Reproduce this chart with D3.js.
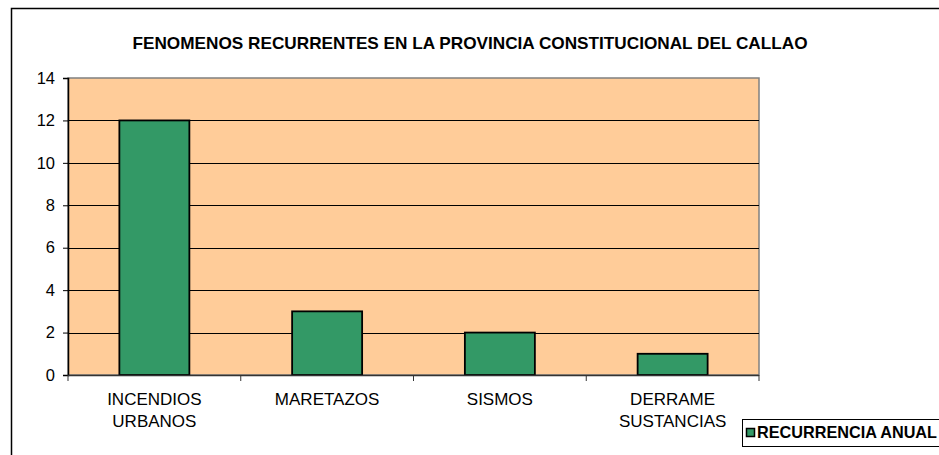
<!DOCTYPE html>
<html><head><meta charset="utf-8">
<script src="https://cdn.jsdelivr.net/npm/d3@7"></script>
<style>body{margin:0;background:#fff}svg{display:block}</style>
</head><body>
<svg id="c" width="939" height="455"></svg>
<script>
const categories = [["INCENDIOS","URBANOS"],["MARETAZOS"],["SISMOS"],["DERRAME","SUSTANCIAS"]];
const values = [12, 3, 2, 1];
const yTicks = [0, 2, 4, 6, 8, 10, 12, 14];
const seriesName = "RECURRENCIA ANUAL";
const title = "FENOMENOS RECURRENTES EN LA PROVINCIA CONSTITUCIONAL DEL CALLAO";

const svg = d3.select("#c");
const font = "Arial, 'Liberation Sans', sans-serif";
const L = 68, R = 759, T = 78, B = 375;

// outer frame (top + left)
svg.append("path").attr("d", "M11.5,455 V8.5 H939").attr("fill","none").attr("stroke","#000").attr("stroke-width",1.5);

svg.append("text").attr("x", 470).attr("y", 49).attr("text-anchor","middle")
  .attr("font-family", font).attr("font-weight","bold").attr("font-size", 17)
  .attr("textLength", 675).attr("lengthAdjust", "spacingAndGlyphs").text(title);

const x = d3.scaleBand().domain(d3.range(categories.length)).range([L, R]).paddingInner(0).paddingOuter(0);
const y = d3.scaleLinear().domain([0, 14]).range([B, T]);

svg.append("rect").attr("x", L).attr("y", T).attr("width", R - L).attr("height", B - T)
  .attr("fill", "#FFCC99").attr("stroke", "#808080").attr("stroke-width", 1.5);

// gridlines
svg.append("g").selectAll("line").data(yTicks.filter(t => t > 0 && t < 14)).join("line")
  .attr("x1", L).attr("x2", R).attr("y1", d => Math.round(y(d)) + 0.5).attr("y2", d => Math.round(y(d)) + 0.5)
  .attr("stroke", "#000").attr("stroke-width", 1);

// bars
const bw = 70;
svg.append("g").selectAll("rect").data(values).join("rect")
  .attr("x", (d, i) => x(i) + x.bandwidth() / 2 - bw / 2)
  .attr("y", d => y(d))
  .attr("width", bw).attr("height", d => B - y(d))
  .attr("fill", "#339966").attr("stroke", "#000").attr("stroke-width", 1.8);

// y axis
const ya = svg.append("g").attr("transform", `translate(${L},0)`)
  .call(d3.axisLeft(y).tickValues(yTicks).tickSize(5).tickPadding(8));
ya.select(".domain").attr("stroke", "#000").attr("stroke-width", 1.5);
ya.selectAll(".tick line").attr("stroke", "#000");
ya.selectAll("text").attr("font-family", font).attr("font-size", 16.5).attr("fill", "#000");

// x axis
const xa = svg.append("g").attr("transform", `translate(0,${B})`);
xa.append("line").attr("x1", L).attr("x2", R).attr("y1", 0.5).attr("y2", 0.5).attr("stroke", "#333").attr("stroke-width", 1.5);
const bounds = d3.range(categories.length + 1).map(i => i < categories.length ? x(i) : R);
xa.selectAll("line.t").data(bounds).join("line").attr("class","t")
  .attr("x1", d => d).attr("x2", d => d).attr("y1", 0).attr("y2", 6).attr("stroke", "#333");
const lab = xa.selectAll("text").data(categories).join("text")
  .attr("text-anchor", "middle").attr("font-family", font).attr("font-size", 17).attr("fill", "#000");
lab.each(function(d, i) {
  const t = d3.select(this);
  d.forEach((s, j) => t.append("tspan").attr("x", x(i) + x.bandwidth() / 2).attr("y", 30 + j * 22).text(s));
});

// legend
const lg = svg.append("g");
lg.append("rect").attr("x", 742.5).attr("y", 419.5).attr("width", 210).attr("height", 27)
  .attr("fill", "#fff").attr("stroke", "#000").attr("stroke-width", 1);
lg.append("rect").attr("x", 746.5).attr("y", 428.5).attr("width", 8).attr("height", 8)
  .attr("fill", "#339966").attr("stroke", "#000").attr("stroke-width", 1.5);
lg.append("text").attr("x", 757).attr("y", 438).attr("font-family", font).attr("font-weight", "bold")
  .attr("font-size", 16.5).attr("textLength", 180).attr("lengthAdjust", "spacingAndGlyphs").text(seriesName);
</script>
</body></html>
